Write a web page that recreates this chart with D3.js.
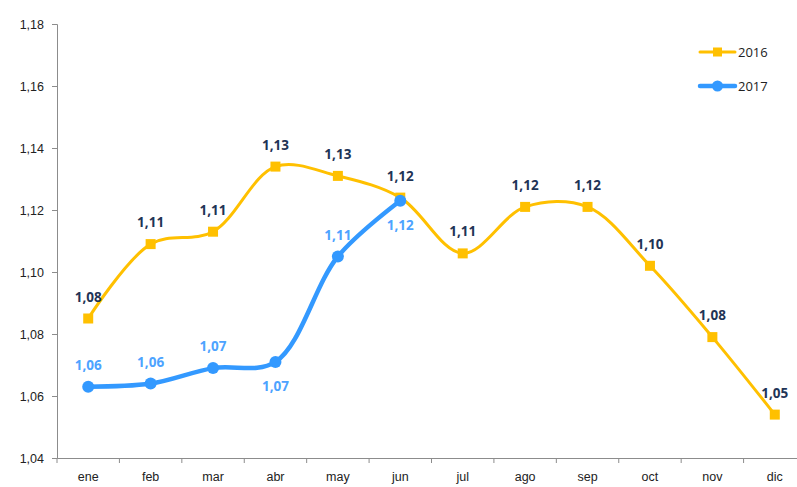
<!DOCTYPE html>
<html>
<head>
<meta charset="utf-8">
<script src="https://cdn.jsdelivr.net/npm/d3@7"></script>
<style>
  body { margin: 0; background: #fff; }
  svg { display: block; font-family: "Open Sans", "Liberation Sans", sans-serif; }
</style>
</head>
<body>
<div id="chart"></div>
<script>
const months = ["ene", "feb", "mar", "abr", "may", "jun", "jul", "ago", "sep", "oct", "nov", "dic"];
const values2016 = [1.085, 1.109, 1.113, 1.134, 1.131, 1.124, 1.106, 1.121, 1.121, 1.102, 1.079, 1.054];
const values2017 = [1.063, 1.064, 1.069, 1.071, 1.105, 1.123];
const labels2016 = ["1,08", "1,11", "1,11", "1,13", "1,13", "1,12", "1,11", "1,12", "1,12", "1,10", "1,08", "1,05"];
const labels2017 = ["1,06", "1,06", "1,07", "1,07", "1,11", "1,12"];
const below2017 = [false, false, false, true, false, true];
const yTicks = [1.04, 1.06, 1.08, 1.10, 1.12, 1.14, 1.16, 1.18];

const width = 797, height = 487;
const svg = d3.select("#chart").append("svg")
  .attr("width", width)
  .attr("height", height);

const x = d3.scaleBand().domain(months).range([57, 806]);
const y = d3.scaleLinear().domain([1.04, 1.18]).range([458, 24]);
const cx = m => x(m) + x.bandwidth() / 2;

const col16 = "#FFC000", col17 = "#3399FF";

// y axis
const yAxis = svg.append("g")
  .attr("transform", "translate(57,0)")
  .call(d3.axisLeft(y).tickValues(yTicks).tickSize(5).tickPadding(8)
    .tickFormat(d => d3.format(".2f")(d).replace(".", ",")));
yAxis.select(".domain").attr("stroke", "#8c8c8c");
yAxis.selectAll(".tick line").attr("stroke", "#8c8c8c");
yAxis.selectAll("text").attr("font-size", 12.5).attr("fill", "#222");

// x axis
const xAxis = svg.append("g")
  .attr("transform", "translate(0,458)")
  .call(d3.axisBottom(x).tickSize(0).tickPadding(14));
xAxis.select(".domain").attr("stroke", "#8c8c8c");
xAxis.selectAll("text").attr("font-size", 12.5).attr("fill", "#222");
svg.append("g").selectAll("line")
  .data(months)
  .join("line")
  .attr("x1", d => x(d)).attr("x2", d => x(d))
  .attr("y1", 458).attr("y2", 463)
  .attr("stroke", "#8c8c8c");

const line = d3.line()
  .x((d, i) => cx(months[i]))
  .y(d => y(d))
  .curve(d3.curveCatmullRom.alpha(0.5));

// 2016
svg.append("path")
  .datum(values2016)
  .attr("fill", "none")
  .attr("stroke", col16)
  .attr("stroke-width", 3)
  .attr("d", line);
svg.append("g").selectAll("rect")
  .data(values2016)
  .join("rect")
  .attr("x", (d, i) => cx(months[i]) - 5)
  .attr("y", d => y(d) - 5)
  .attr("width", 10).attr("height", 10)
  .attr("fill", col16);

// 2017
svg.append("path")
  .datum(values2017)
  .attr("fill", "none")
  .attr("stroke", col17)
  .attr("stroke-width", 4.5)
  .attr("stroke-linecap", "round")
  .attr("d", line);
svg.append("g").selectAll("circle")
  .data(values2017)
  .join("circle")
  .attr("cx", (d, i) => cx(months[i]))
  .attr("cy", d => y(d))
  .attr("r", 6)
  .attr("fill", col17);

// data labels
svg.append("g").selectAll("text")
  .data(values2016)
  .join("text")
  .attr("x", (d, i) => cx(months[i]))
  .attr("y", d => y(d) - 17)
  .attr("text-anchor", "middle")
  .attr("font-size", 13.5)
  .attr("font-weight", "bold")
  .attr("fill", "#1F3456")
  .text((d, i) => labels2016[i]);

svg.append("g").selectAll("text")
  .data(values2017)
  .join("text")
  .attr("x", (d, i) => cx(months[i]))
  .attr("y", (d, i) => below2017[i] ? y(d) + 29 : y(d) - 17)
  .attr("text-anchor", "middle")
  .attr("font-size", 13.5)
  .attr("font-weight", "bold")
  .attr("fill", "#4DA3FF")
  .text((d, i) => labels2017[i]);

// legend
const legend = [
  { name: "2016", color: col16, y: 52, w: 3 },
  { name: "2017", color: col17, y: 86, w: 4.5 }
];
const lg = svg.append("g").selectAll("g").data(legend).join("g");
lg.append("line")
  .attr("x1", 700).attr("x2", 735)
  .attr("y1", d => d.y).attr("y2", d => d.y)
  .attr("stroke", d => d.color)
  .attr("stroke-width", d => d.w)
  .attr("stroke-linecap", "round");
lg.filter(d => d.name === "2016").append("rect")
  .attr("x", 713).attr("y", d => d.y - 4.5)
  .attr("width", 9).attr("height", 9)
  .attr("fill", d => d.color);
lg.filter(d => d.name === "2017").append("circle")
  .attr("cx", 717.5).attr("cy", d => d.y)
  .attr("r", 5.5)
  .attr("fill", d => d.color);
lg.append("text")
  .attr("x", 738).attr("y", d => d.y + 4.5)
  .attr("font-size", 13)
  .attr("fill", "#222")
  .text(d => d.name);
</script>
</body>
</html>
